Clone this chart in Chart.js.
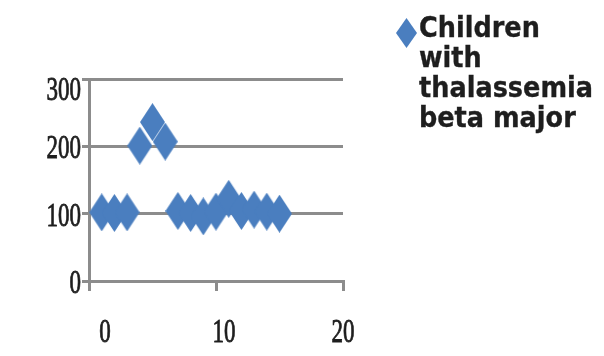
<!DOCTYPE html>
<html>
<head>
<meta charset="utf-8">
<script src="https://cdn.jsdelivr.net/npm/chart.js@4"></script>
<style>
  html, body { margin: 0; padding: 0; background: #ffffff; }
  #wrap { width: 604px; height: 356px; }
</style>
</head>
<body>
<div id="wrap"><canvas id="thalChart" width="604" height="356"></canvas></div>
<script>
// values
const seriesLabel = "Children with thalassemia beta major";
const xValues = [1, 2, 3, 4, 5, 6, 7, 8, 9, 10, 11, 12, 13, 14, 15];
const yValues = [102, 101, 102, 201, 236, 207, 104, 101, 96, 103, 122, 104, 106, 103, 100];
const xTickLabels = ["0", "10", "20"];
const yTickLabels = ["0", "100", "200", "300"];

const blue = "#4a7ebf";
const gray = "#8c8c8c";
const textColor = "#1e1e1e";

// tall diamond marker, like the stretched one in the picture
function makeDiamond(w, h) {
    const c = document.createElement("canvas");
    c.width = w;
    c.height = h;
    const g = c.getContext("2d");
    g.fillStyle = blue;
    g.beginPath();
    g.moveTo(w / 2, 0);
    g.lineTo(w, h / 2);
    g.lineTo(w / 2, h);
    g.lineTo(0, h / 2);
    g.closePath();
    g.fill();
    return c;
}
const pointDiamond = makeDiamond(25, 38);
const legendDiamond = makeDiamond(21, 30);

function stretchedText(ctx, text, x, y, sx, sy, align, baseline) {
    ctx.save();
    ctx.translate(x, y);
    ctx.scale(sx, sy);
    ctx.textAlign = align;
    ctx.textBaseline = baseline;
    ctx.fillText(text, 0, 0);
    ctx.strokeText(text, 0, 0);
    ctx.restore();
}

const labelsPlugin = {
    id: "stretchedLabels",
    afterDraw(chart) {
        const ctx = chart.ctx;
        const xs = chart.scales.x;
        const ys = chart.scales.y;
        ctx.save();
        ctx.fillStyle = textColor;
        ctx.strokeStyle = textColor;
        ctx.lineWidth = 0.6;
        ctx.font = "23px 'Liberation Serif'";
        yTickLabels.forEach(t => {
            const py = Math.max(ys.getPixelForValue(Number(t)) + 3, chart.chartArea.top + 12);
            stretchedText(ctx, t, 81, py, 1, 1.5, "right", "middle");
        });
        // the labels in the picture sit a bit right of their ticks, less so further right
        xTickLabels.forEach(t => {
            const v = Number(t);
            const px = xs.getPixelForValue(v) + 16 - v * 0.8;
            stretchedText(ctx, t, px, 333, 1, 1.5, "center", "middle");
        });

        // legend on the right, wrapped like the original
        ctx.drawImage(legendDiamond, 396, 18);
        ctx.font = "bold 24px 'DejaVu Sans', 'Noto Sans'";
        ctx.lineWidth = 0.3;
        const lines = ["Children", "with", "thalassemia", "beta major"];
        const sx = 174 / ctx.measureText("thalassemia").width;
        lines.forEach((line, i) => {
            stretchedText(ctx, line, 419, 37 + i * 30, sx, 1.2, "left", "alphabetic");
        });
        ctx.restore();
    }
};

const points = xValues.map((x, i) => ({ x: x, y: yValues[i] }));

new Chart(document.getElementById("thalChart"), {
    type: "scatter",
    data: {
        datasets: [{
            label: seriesLabel,
            data: points,
            pointStyle: pointDiamond,
            backgroundColor: blue,
            borderColor: blue
        }]
    },
    options: {
        responsive: false,
        animation: false,
        layout: {
            padding: { top: 79, right: 261, bottom: 0, left: 0 }
        },
        plugins: {
            legend: { display: false },
            tooltip: { enabled: false }
        },
        scales: {
            x: {
                type: "linear",
                min: 0,
                max: 20,
                ticks: { stepSize: 10, display: false },
                grid: {
                    drawOnChartArea: false,
                    drawTicks: true,
                    tickLength: 10,
                    color: gray,
                    lineWidth: 3
                },
                border: { color: gray, width: 3 },
                afterFit(scale) { scale.height = 75; }
            },
            y: {
                min: 0,
                max: 300,
                ticks: { stepSize: 100, display: false },
                grid: {
                    drawTicks: true,
                    tickLength: 7,
                    color: gray,
                    lineWidth: 3
                },
                border: { color: gray, width: 3 },
                afterFit(scale) { scale.width = 89; }
            }
        }
    },
    plugins: [labelsPlugin]
});
</script>
</body>
</html>
